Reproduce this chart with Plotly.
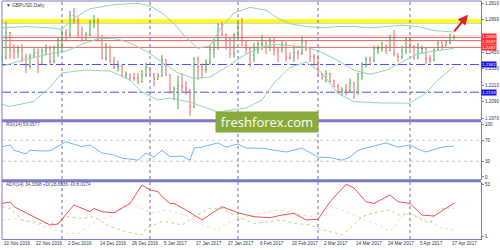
import plotly.graph_objects as go
import pandas as pd

# ---------------- data ----------------
dates = pd.bdate_range("2016-11-10", "2017-04-18")
idx = list(range(len(dates)))

opens = [1.2385,1.2410,1.2595,1.2470,1.2455,1.2465,1.2410,1.2350,1.2425,1.2445,
         1.2365,1.2465,1.2480,1.2385,1.2485,1.2505,1.2595,1.2585,1.2720,1.2685,
         1.2590,1.2560,1.2580,1.2675,1.2680,1.2550,1.2405,1.2490,1.2390,1.2345,
         1.2350,1.2280,1.2290,1.2265,1.2260,1.2235,1.2285,1.2340,1.2290,1.2255,
         1.2280,1.2395,1.2285,1.2165,1.2185,1.2205,1.2195,1.2180,1.2055,1.2405,
         1.2345,1.2325,1.2375,1.2470,1.2485,1.2655,1.2580,1.2550,1.2440,1.2580,
         1.2630,1.2500,1.2480,1.2430,1.2475,1.2510,1.2510,1.2490,1.2530,1.2470,
         1.2460,1.2510,1.2410,1.2410,1.2450,1.2445,1.2530,1.2475,1.2420,1.2410,
         1.2290,1.2270,1.2295,1.2240,1.2200,1.2165,1.2175,1.2170,1.2225,1.2160,
         1.2295,1.2365,1.2400,1.2390,1.2480,1.2480,1.2485,1.2465,1.2560,1.2440,
         1.2420,1.2460,1.2550,1.2495,1.2410,1.2480,1.2480,1.2405,1.2395,1.2470,
         1.2525,1.2500,1.2525,1.2560]
highs = [1.2545,1.2675,1.2600,1.2510,1.2500,1.2510,1.2440,1.2440,1.2490,1.2480,
         1.2480,1.2510,1.2500,1.2500,1.2560,1.2620,1.2620,1.2755,1.2775,1.2705,
         1.2640,1.2600,1.2690,1.2725,1.2705,1.2580,1.2520,1.2500,1.2420,1.2390,
         1.2360,1.2310,1.2295,1.2300,1.2300,1.2320,1.2375,1.2340,1.2300,1.2300,
         1.2430,1.2400,1.2290,1.2200,1.2280,1.2300,1.2240,1.2180,1.2415,1.2420,
         1.2370,1.2400,1.2500,1.2550,1.2665,1.2675,1.2590,1.2555,1.2590,1.2670,
         1.2705,1.2540,1.2490,1.2520,1.2530,1.2580,1.2540,1.2560,1.2560,1.2490,
         1.2540,1.2530,1.2450,1.2500,1.2470,1.2570,1.2540,1.2480,1.2440,1.2430,
         1.2300,1.2320,1.2300,1.2250,1.2220,1.2195,1.2220,1.2260,1.2235,1.2300,
         1.2380,1.2420,1.2420,1.2500,1.2500,1.2530,1.2510,1.2580,1.2615,1.2440,
         1.2500,1.2560,1.2560,1.2500,1.2520,1.2500,1.2485,1.2430,1.2480,1.2530,
         1.2530,1.2535,1.2590,1.2580]
lows = [1.2345,1.2400,1.2400,1.2400,1.2410,1.2380,1.2300,1.2330,1.2410,1.2300,
        1.2360,1.2430,1.2360,1.2370,1.2420,1.2460,1.2530,1.2560,1.2660,1.2565,
        1.2530,1.2540,1.2570,1.2630,1.2530,1.2400,1.2390,1.2370,1.2330,1.2310,
        1.2270,1.2260,1.2250,1.2240,1.2215,1.2230,1.2270,1.2280,1.2200,1.2250,
        1.2270,1.2280,1.2150,1.2100,1.2035,1.2150,1.2140,1.1985,1.2040,1.2250,
        1.2260,1.2300,1.2360,1.2410,1.2470,1.2570,1.2470,1.2410,1.2410,1.2550,
        1.2500,1.2440,1.2345,1.2380,1.2440,1.2470,1.2440,1.2460,1.2430,1.2380,
        1.2450,1.2385,1.2400,1.2380,1.2400,1.2430,1.2460,1.2380,1.2350,1.2280,
        1.2250,1.2230,1.2230,1.2195,1.2150,1.2135,1.2135,1.2160,1.2110,1.2140,
        1.2250,1.2340,1.2360,1.2380,1.2440,1.2455,1.2440,1.2460,1.2420,1.2380,
        1.2400,1.2440,1.2470,1.2400,1.2400,1.2440,1.2365,1.2370,1.2385,1.2460,
        1.2470,1.2495,1.2510,1.2545]
closes = [1.2410,1.2595,1.2470,1.2455,1.2465,1.2410,1.2350,1.2425,1.2445,1.2365,
          1.2465,1.2480,1.2385,1.2485,1.2505,1.2595,1.2585,1.2720,1.2685,1.2590,
          1.2560,1.2580,1.2675,1.2680,1.2550,1.2405,1.2490,1.2390,1.2345,1.2350,
          1.2280,1.2290,1.2265,1.2260,1.2235,1.2285,1.2340,1.2290,1.2255,1.2280,
          1.2395,1.2285,1.2165,1.2185,1.2205,1.2195,1.2180,1.2055,1.2405,1.2345,
          1.2325,1.2375,1.2470,1.2485,1.2655,1.2580,1.2550,1.2440,1.2580,1.2630,
          1.2500,1.2480,1.2430,1.2475,1.2510,1.2510,1.2490,1.2530,1.2470,1.2460,
          1.2510,1.2410,1.2410,1.2450,1.2445,1.2530,1.2475,1.2420,1.2410,1.2290,
          1.2270,1.2295,1.2240,1.2200,1.2165,1.2175,1.2170,1.2225,1.2160,1.2295,
          1.2365,1.2400,1.2390,1.2480,1.2480,1.2485,1.2465,1.2560,1.2440,1.2420,
          1.2460,1.2550,1.2495,1.2410,1.2480,1.2480,1.2405,1.2395,1.2470,1.2525,
          1.2500,1.2525,1.2560,1.2565]

# Bollinger bands (sparse points: bar index, price)
bb_up_i = [0,6,12,15,18,22,28,34,37,40,43,46,49,52,55,58,62,66,69,72,76,80,84,88,92,96,100,104,108,113]
bb_up_v = [1.2630,1.2640,1.2630,1.2620,1.2700,1.2770,1.2800,1.2810,1.2790,1.2740,1.2660,1.2560,1.2480,1.2500,1.2640,
           1.2740,1.2780,1.2760,1.2700,1.2660,1.2640,1.2630,1.2640,1.2640,1.2630,1.2640,1.2650,1.2640,1.2610,1.2600]
bb_md_i = [0,6,12,16,20,24,28,32,36,40,44,48,52,56,60,64,68,72,76,80,84,88,92,96,100,104,108,113]
bb_md_v = [1.2350,1.2400,1.2440,1.2460,1.2510,1.2550,1.2555,1.2520,1.2460,1.2380,1.2300,1.2260,1.2270,1.2340,
           1.2420,1.2480,1.2510,1.2500,1.2490,1.2450,1.2390,1.2320,1.2290,1.2320,1.2380,1.2440,1.2460,1.2480]
bb_lo_i = [0,2,8,12,15,21,27,32,35,39,42,47,54,61,65,68,72,76,80,84,88,95,102,106,109,113]
bb_lo_v = [1.2070,1.2055,1.2092,1.2197,1.2300,1.2322,1.2314,1.2248,1.2160,1.2102,1.2116,1.2087,1.2014,1.2043,
           1.2102,1.2226,1.2340,1.2380,1.2300,1.2150,1.2090,1.2080,1.2079,1.2153,1.2248,1.2350]

# RSI(14)
rsi_i = [0,2,3,6,7,10,12,14,16,20,22,25,28,30,34,36,38,40,42,45,47,48,50,54,56,59,61,65,68,71,75,79,82,85,87,89,91,94,96,99,102,104,106,110,113]
rsi_v = [57.7,61,51,44,51,49.5,50,57.7,67,57.7,61,45.7,42,36,32,45.7,38,51,38.7,40,32,55,57,65,57,63,55,55,51,47.6,
         55,38,37,32,38,51,55,61,65,57,61,53,47.6,57,59.06]

# ADX(14), +DI, -DI
adx_i = [0,2,3,6,8,12,14,18,22,23,25,28,32,35,37,39,40,42,43,46,50,55,59,63,67,70,73,76,79,82,86,88,91,93,97,99,102,105,108,113]
adx_v = [34,35.4,30.8,24.5,20.8,12.6,13.6,32.5,25.8,29,25.8,24.8,34,52.3,47.4,45.7,40.7,34,34,27.5,17.6,30.8,24.8,
         20.8,19.9,22.5,24.2,17.6,18.3,35.7,53,49.4,35.7,34,42.4,35.7,34,22.5,21.5,34.34]
pdi_i = [0,2,5,8,10,14,16,20,23,27,31,35,36,40,41,45,48,52,55,59,63,67,70,73,77,79,82,85,87,90,93,97,99,102,105,107,109,111,113]
pdi_v = [30.8,29,17.6,16,14.3,14.3,20.8,19.2,20.8,10.9,6,2.7,9.3,16,16,12.6,20.8,29.2,29,20.8,14.3,16,17.6,14.3,
         12.6,9.3,6,2.7,9.3,20.8,24.8,27.5,22.5,24.2,17.6,14.3,27.5,29.8,28.65]
mdi_i = [0,3,8,12,16,19,24,27,32,35,38,41,43,46,50,54,56,61,65,69,73,77,81,82,87,91,95,97,100,102,106,108,110,113]
mdi_v = [17,19.2,14.3,9.3,4.4,4.4,17.6,20.8,34,29.2,24.2,27.5,25.8,22.5,12.6,7.6,14.3,20.8,24.2,27.5,24.2,20.8,
         27.5,32,24.2,17.6,10.9,6,20.8,24.2,17.6,14.3,9.3,8.02]

levels_red = [1.2559, 1.2537, 1.2487]
levels_blue = [1.2362, 1.2159]
level_yellow = 1.2680
price_ticks = [1.2810, 1.2690, 1.2450, 1.2330, 1.2210, 1.2090, 1.1970]
month_starts = [15, 37, 59, 79, 102]
label_every = 8

# ---------------- figure ----------------
FRAME = "#7b7bcb"
UP = "#4e9f4e"
DN = "#f06262"
BB = "#8fd6b4"
FONT = "Liberation Sans"

fig = go.Figure()
fig.add_trace(go.Ohlc(x=idx, open=opens, high=highs, low=lows, close=closes,
                      increasing=dict(line=dict(color=UP, width=1)),
                      decreasing=dict(line=dict(color=DN, width=1)),
                      tickwidth=0.25, xaxis="x", yaxis="y", hoverinfo="skip"))
for xi, yv in [(bb_up_i, bb_up_v), (bb_md_i, bb_md_v), (bb_lo_i, bb_lo_v)]:
    fig.add_trace(go.Scatter(x=xi, y=yv, mode="lines", line=dict(color=BB, width=1),
                             xaxis="x", yaxis="y", hoverinfo="skip"))
fig.add_trace(go.Scatter(x=rsi_i, y=rsi_v, mode="lines", line=dict(color="#6fb4ff", width=1),
                         xaxis="x", yaxis="y2", hoverinfo="skip"))
fig.add_trace(go.Scatter(x=mdi_i, y=mdi_v, mode="lines", line=dict(color="#f7dcb8", width=1, dash="dot"),
                         xaxis="x", yaxis="y3", hoverinfo="skip"))
fig.add_trace(go.Scatter(x=pdi_i, y=pdi_v, mode="lines", line=dict(color="#bcd97a", width=1, dash="dot"),
                         xaxis="x", yaxis="y3", hoverinfo="skip"))
fig.add_trace(go.Scatter(x=adx_i, y=adx_v, mode="lines", line=dict(color="#f05050", width=1),
                         xaxis="x", yaxis="y3", hoverinfo="skip"))

shapes = []
shapes.append(dict(type="line", xref="paper", x0=0, x1=1, yref="y", y0=level_yellow - 0.0015,
                   y1=level_yellow - 0.0015, line=dict(color="#d6d6d6", width=2), layer="below"))
shapes.append(dict(type="line", xref="paper", x0=0, x1=1, yref="y", y0=level_yellow, y1=level_yellow,
                   line=dict(color="#ffff00", width=3.5), layer="below"))
shapes.append(dict(type="line", xref="paper", x0=0, x1=1, yref="y", y0=levels_red[0] + 0.0013,
                   y1=levels_red[0] + 0.0013, line=dict(color="#dcdcdc", width=1), layer="below"))
for lv in levels_red:
    shapes.append(dict(type="line", xref="paper", x0=0, x1=1, yref="y", y0=lv, y1=lv,
                       line=dict(color="#f06060", width=1), layer="below"))
for lv in levels_blue:
    shapes.append(dict(type="line", xref="paper", x0=0, x1=1, yref="y", y0=lv, y1=lv,
                       line=dict(color="#4a4aff", width=1, dash="dashdot"), layer="below"))
for lv in [70, 30]:
    shapes.append(dict(type="line", xref="paper", x0=0, x1=1, yref="y2", y0=lv, y1=lv,
                       line=dict(color="#c8c8c8", width=1, dash="dot"), layer="below"))
for m in month_starts:
    shapes.append(dict(type="line", xref="x", x0=m, x1=m, yref="paper", y0=0, y1=1,
                       line=dict(color="#6a6ab4", width=1, dash="dot"), layer="below"))
for py in [0.4971, 0.2450]:
    shapes.append(dict(type="line", xref="paper", x0=0, x1=1, yref="paper", y0=py, y1=py,
                       line=dict(color=FRAME, width=3)))
shapes.append(dict(type="line", xref="paper", x0=0, x1=0, yref="paper", y0=0, y1=1,
                   line=dict(color=FRAME, width=1)))
shapes.append(dict(type="line", xref="paper", x0=0, x1=1, yref="paper", y0=1, y1=1,
                   line=dict(color=FRAME, width=1)))

ann = []
small = dict(family=FONT, size=4.6, color="#333355")
for i in range(0, len(dates), label_every):
    ann.append(dict(x=i, xref="x", y=-0.017, yref="paper", text=dates[i].strftime("%-d %b %Y"),
                    showarrow=False, xanchor="left", yanchor="middle", font=small))
red_shift = [1.5, -1.0, 0]
for lv, sh in zip(levels_red, red_shift):
    ann.append(dict(x=1, xref="paper", y=lv, yref="y", yshift=sh, text=f"{lv:.4f}", showarrow=False,
                    xanchor="left", yanchor="middle", bgcolor="#ff3030", borderpad=0.2,
                    font=dict(family=FONT, size=4.4, color="white")))
for lv in levels_blue:
    ann.append(dict(x=1, xref="paper", y=lv, yref="y", text=f"{lv:.4f}", showarrow=False,
                    xanchor="left", yanchor="middle", bgcolor="#1010ee", borderpad=0.2,
                    font=dict(family=FONT, size=4.4, color="white")))
ann.append(dict(x=0.004, xref="paper", y=0.983, yref="paper", text="▼ GBPUSD,Daily", showarrow=False,
                xanchor="left", yanchor="middle", font=dict(family=FONT, size=4.8, color="#444444")))
ann.append(dict(x=0.004, xref="paper", y=0.483, yref="paper", text="RSI(14) 59.0577", showarrow=False,
                xanchor="left", yanchor="middle", font=dict(family=FONT, size=4.6, color="#444466")))
ann.append(dict(x=0.004, xref="paper", y=0.227, yref="paper",
                text="ADX(14) 34.3398 +DI:28.6536 -DI:8.0174", showarrow=False,
                xanchor="left", yanchor="middle", font=dict(family=FONT, size=4.6, color="#444466")))
ann.append(dict(x=116.5, xref="x", y=1.2727, yref="y", ax=112.75, ay=1.2593,
                axref="x", ayref="y", text="", showarrow=True, arrowhead=2, arrowsize=1,
                arrowwidth=2, arrowcolor="#e02020"))
ann.append(dict(x=0.553, xref="paper", y=0.4916, yref="paper", text="freshforex.com", showarrow=False,
                xanchor="center", yanchor="middle", bgcolor="#8aa93b", width=100, height=18,
                font=dict(family="Open Sans", size=13, color="white")))

axis_common = dict(side="right", showline=True, linecolor=FRAME, linewidth=1, ticks="outside",
                   ticklen=2, tickcolor=FRAME, showgrid=False, zeroline=False,
                   tickfont=dict(family=FONT, size=4.6, color="#333355"), fixedrange=True)

fig.update_layout(
    width=500, height=250, margin=dict(l=2, r=19, t=1, b=11),
    paper_bgcolor="white", plot_bgcolor="white", showlegend=False,
    xaxis=dict(range=[0, 119.75], showticklabels=False, showgrid=False, zeroline=False,
               showline=True, linecolor=FRAME, linewidth=1, ticks="", anchor="y3",
               rangeslider=dict(visible=False), fixedrange=True),
    yaxis=dict(domain=[0.5, 1], range=[1.19555, 1.28269], tickvals=price_ticks,
               ticktext=[f"{v:.4f}" for v in price_ticks], anchor="x", **axis_common),
    yaxis2=dict(domain=[0.2479, 0.4916], range=[-5.71, 104.76], tickvals=[100, 70, 30, 0],
                anchor="x", **axis_common),
    yaxis3=dict(domain=[0, 0.2395], range=[-1.28, 55.28], tickvals=[53, 1], anchor="x", **axis_common),
    shapes=shapes, annotations=ann,
)
fig.write_html("out.html")
